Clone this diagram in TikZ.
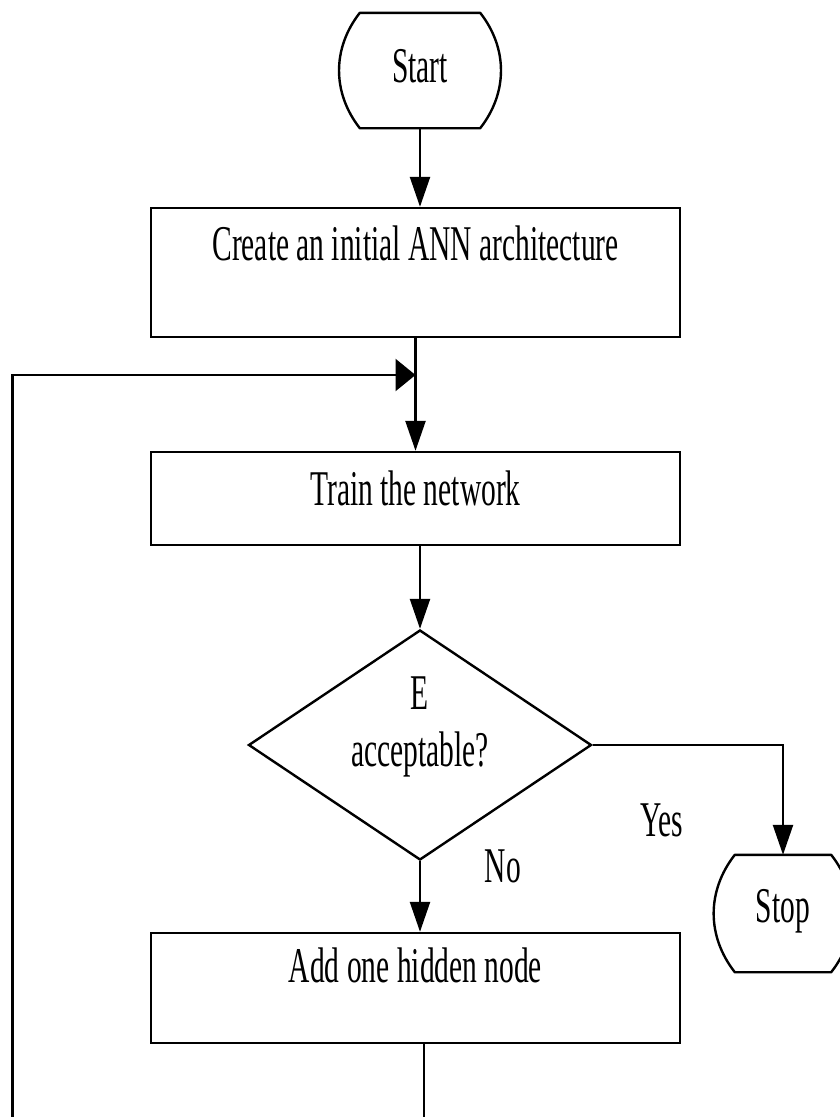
\documentclass[tikz,border=0pt]{standalone}
\usepackage{fontspec}
\setmainfont{Liberation Serif}[FakeStretch=0.59]
\usetikzlibrary{arrows.meta,shapes.geometric}
\begin{document}
\begin{tikzpicture}[x=1pt,y=-1pt,
  every node/.style={font=\fontsize{50}{57}\selectfont},
  lw/.style={line width=2.4pt},
  procbox/.style={draw, lw, inner sep=0pt, minimum width=529pt},
  term/.style={inner sep=0pt},
  termline/.style={lw, line join=round},
  dec/.style={draw, lw, shape=diamond, inner sep=0pt, aspect=1.49,
    minimum width=343pt, minimum height=230pt, align=center,
    text height=45pt, text depth=2pt},
  varr/.style={lw, -{Triangle[length=30pt,width=20pt]}},
  harr/.style={lw, -{Triangle[length=20pt,width=32pt]}},
  conn/.style={lw},
  lbl/.style={inner sep=0pt}
]
\fill[white] (0,0) rectangle (840,1117);
\useasboundingbox (0,0) rectangle (840,1117);

\node[term, minimum width=120pt, text height=69pt, text depth=46pt] (start) at (420,70.5) {Start};
\node[procbox, text height=52pt, text depth=77pt] (b1) at (415.5,272.5) {Create an initial ANN architecture};
\node[procbox, text height=53pt, text depth=40pt] (b2) at (415.5,498.5) {Train the network};
\node[dec] (dec) at (420,745) {E\\acceptable?};
\node[term, minimum width=96pt, text height=67pt, text depth=50pt] (stop) at (783,913.5) {Stop};
\node[procbox, text height=49pt, text depth=61pt] (b3) at (415.5,988) {Add one hidden node};
\node[lbl] (yes) at (662,820) {Yes};
\node[lbl] (no) at (503,866) {No};

\draw[termline] (start.north west) -- (start.north east) to[bend left=38] (start.south east)
  -- (start.south west) to[bend left=38] (start.north west) -- cycle;
\draw[termline] (stop.north west) -- (stop.north east) to[bend left=38] (stop.south east)
  -- (stop.south west) to[bend left=38] (stop.north west) -- cycle;

\coordinate (join) at (415.5,375);
\coordinate (loopend) at (12.5,1125);
\coordinate (tail) at (424,1125);

\draw[varr] (start.south) -- (start.south |- b1.north);
\draw[varr] (b1.south) -- (b2.north);
\draw[harr] (loopend) |- (join);
\draw[varr] (dec.north |- b2.south) -- (dec.north);
\draw[varr] (dec.east) -| (stop.north);
\draw[varr] (dec.south) -- (dec.south |- b3.north);
\draw[conn] (b3.south -| tail) -- (tail);
\end{tikzpicture}
\end{document}
